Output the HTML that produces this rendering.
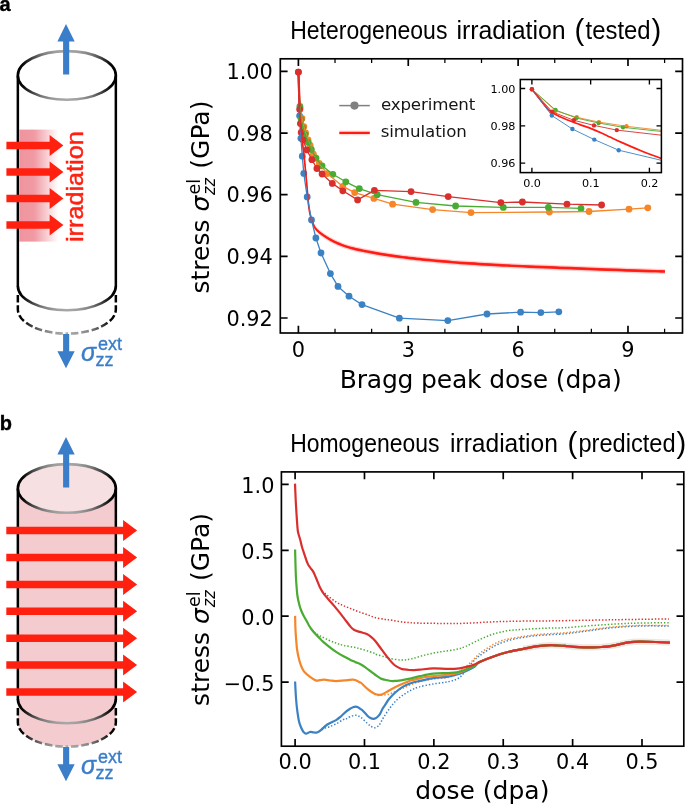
<!DOCTYPE html>
<html lang="en">
<head>
<meta charset="utf-8">
<title>Heterogeneous and homogeneous irradiation</title>
<style>
html,body{margin:0;padding:0;background:#fff;}
body{width:685px;height:806px;overflow:hidden;}
svg{display:block;}
text{font-family:"DejaVu Sans", "Liberation Sans", sans-serif;fill:#000;}
.ls{font-family:"Liberation Sans", "DejaVu Sans", sans-serif;}
</style>
</head>
<body>
<svg width="685" height="806" viewBox="0 0 685 806">
<defs>
<linearGradient id="eg" gradientUnits="userSpaceOnUse" x1="17.85" y1="0" x2="115.85" y2="0">
<stop offset="0" stop-color="#000"/><stop offset="0.05" stop-color="#050505"/><stop offset="0.15" stop-color="#444"/><stop offset="0.26" stop-color="#7e7e7e"/><stop offset="0.38" stop-color="#9e9e9e"/><stop offset="0.5" stop-color="#a8a8a8"/><stop offset="0.62" stop-color="#9e9e9e"/><stop offset="0.74" stop-color="#7e7e7e"/><stop offset="0.85" stop-color="#444"/><stop offset="0.95" stop-color="#050505"/><stop offset="1" stop-color="#000"/>
</linearGradient>
<linearGradient id="pg" x1="0" y1="0" x2="1" y2="0">
<stop offset="0" stop-color="#ef949e"/><stop offset="0.38" stop-color="#f09aa4"/><stop offset="1" stop-color="#ffffff"/>
</linearGradient>
</defs>
<rect x="0" y="0" width="685" height="806" fill="#ffffff"/>
<g id="panel-a-illustration">
<rect x="19.4" y="129.6" width="39" height="112" fill="url(#pg)"/>
<path d="M17.85 294.9 L17.85 309.3 A49 24.3 0 0 0 66.85 333.6" stroke="url(#eg)" stroke-width="2.5" stroke-dasharray="7.5 2.8" fill="none"/>
<path d="M115.85 294.9 L115.85 309.3 A49 24.3 0 0 1 66.85 333.6" stroke="url(#eg)" stroke-width="2.5" stroke-dasharray="7.5 2.8" fill="none"/>
<path d="M17.85 285.9 A49 24.3 0 0 0 115.85 285.9" stroke="url(#eg)" stroke-width="2.6" fill="none"/>
<ellipse cx="66.85" cy="75.45" rx="49" ry="24.3" stroke="url(#eg)" stroke-width="2.6" fill="none"/>
<path d="M17.85 75.45 V286.4 M115.85 75.45 V286.4" stroke="#000" stroke-width="2.5" fill="none"/>
<path d="M6.4 141.85 H49.6 V135.1 L63.4 145.6 L49.6 156.1 V149.35 H6.4 Z" fill="#ff2010"/>
<path d="M6.4 168.35 H49.6 V161.6 L63.4 172.1 L49.6 182.6 V175.85 H6.4 Z" fill="#ff2010"/>
<path d="M6.4 194.85 H49.6 V188.1 L63.4 198.6 L49.6 209.1 V202.35 H6.4 Z" fill="#ff2010"/>
<path d="M6.4 221.35 H49.6 V214.6 L63.4 225.1 L49.6 235.6 V228.85 H6.4 Z" fill="#ff2010"/>
<text class="ls" style="fill:#ff2010;stroke:#ff2010;stroke-width:0.45px" font-size="23.6" transform="translate(83 242.0) rotate(-90)" x="0" y="0" textLength="110.8" lengthAdjust="spacingAndGlyphs">irradiation</text>
<path d="M63.1 74.4 H69.2 V41.4 H74.7 L66.0 24 L57.4 41.4 H63.1 Z" fill="#3a7dc9"/>
<path d="M63.1 334 H69.2 V351.3 H74.7 L66.0 368.2 L57.4 351.3 H63.1 Z" fill="#3a7dc9"/>
<text class="ls" style="fill:#3a7dc9;stroke:#3a7dc9;stroke-width:0.35px" font-size="25" font-style="italic" x="80.9" y="361">σ</text>
<text class="ls" style="fill:#3a7dc9;stroke:#3a7dc9;stroke-width:0.35px" font-size="18" x="97.9" y="350">ext</text>
<text class="ls" style="fill:#3a7dc9;stroke:#3a7dc9;stroke-width:0.35px" font-size="18" x="95.6" y="366">zz</text>
</g>
<g id="panel-b-illustration">
<path d="M17.85 488.45 L17.85 722.3 A49 24.3 0 0 0 115.85 722.3 L115.85 488.45 A49 24.3 0 0 0 17.85 488.45 Z" fill="#f4cbce" stroke="none"/>
<ellipse cx="66.85" cy="488.45" rx="49" ry="24.3" fill="#f6e0e1" stroke="none"/>
<path d="M17.85 707.9 L17.85 722.3 A49 24.3 0 0 0 66.85 746.6" stroke="url(#eg)" stroke-width="2.5" stroke-dasharray="7.5 2.8" fill="none"/>
<path d="M115.85 707.9 L115.85 722.3 A49 24.3 0 0 1 66.85 746.6" stroke="url(#eg)" stroke-width="2.5" stroke-dasharray="7.5 2.8" fill="none"/>
<path d="M17.85 698.9 A49 24.3 0 0 0 115.85 698.9" stroke="url(#eg)" stroke-width="2.6" fill="none"/>
<ellipse cx="66.85" cy="488.45" rx="49" ry="24.3" stroke="url(#eg)" stroke-width="2.6" fill="none"/>
<path d="M17.85 488.45 V699.4 M115.85 488.45 V699.4" stroke="#000" stroke-width="2.5" fill="none"/>
<path d="M6.3 526.85 H123.1 V520.1 L137.1 530.6 L123.1 541.1 V534.35 H6.3 Z" fill="#ff2010"/>
<path d="M6.3 553.75 H123.1 V547 L137.1 557.5 L123.1 568 V561.25 H6.3 Z" fill="#ff2010"/>
<path d="M6.3 580.65 H123.1 V573.9 L137.1 584.4 L123.1 594.9 V588.15 H6.3 Z" fill="#ff2010"/>
<path d="M6.3 607.55 H123.1 V600.8 L137.1 611.3 L123.1 621.8 V615.05 H6.3 Z" fill="#ff2010"/>
<path d="M6.3 634.45 H123.1 V627.7 L137.1 638.2 L123.1 648.7 V641.95 H6.3 Z" fill="#ff2010"/>
<path d="M6.3 661.35 H123.1 V654.6 L137.1 665.1 L123.1 675.6 V668.85 H6.3 Z" fill="#ff2010"/>
<path d="M6.3 688.25 H123.1 V681.5 L137.1 692 L123.1 702.5 V695.75 H6.3 Z" fill="#ff2010"/>
<path d="M63.1 487.4 H69.2 V454.4 H74.7 L66.0 437 L57.4 454.4 H63.1 Z" fill="#3a7dc9"/>
<path d="M63.1 747 H69.2 V764.3 H74.7 L66.0 781.2 L57.4 764.3 H63.1 Z" fill="#3a7dc9"/>
<text class="ls" style="fill:#3a7dc9;stroke:#3a7dc9;stroke-width:0.35px" font-size="25" font-style="italic" x="80.9" y="774">σ</text>
<text class="ls" style="fill:#3a7dc9;stroke:#3a7dc9;stroke-width:0.35px" font-size="18" x="97.9" y="763">ext</text>
<text class="ls" style="fill:#3a7dc9;stroke:#3a7dc9;stroke-width:0.35px" font-size="18" x="95.6" y="779">zz</text>
</g>
<text class="ls" font-size="20" font-weight="bold" style="stroke:#000;stroke-width:0.35px" x="-0.6" y="11">a</text>
<text class="ls" font-size="20" font-weight="bold" style="stroke:#000;stroke-width:0.35px" x="-0.3" y="429.7">b</text>
<g id="chart-a">
<g fill="none" stroke-linejoin="round">
<g fill="#3b82c4"><circle cx="299.6" cy="115.8" r="3.4"/><circle cx="300.9" cy="138.3" r="3.4"/><circle cx="302.3" cy="156.2" r="3.4"/><circle cx="303.8" cy="173.4" r="3.4"/><circle cx="307.2" cy="196.9" r="3.4"/><circle cx="311.5" cy="219.9" r="3.4"/><circle cx="315.9" cy="238" r="3.4"/><circle cx="321" cy="253" r="3.4"/><circle cx="330.4" cy="273.6" r="3.4"/><circle cx="338" cy="286.4" r="3.4"/><circle cx="349" cy="296.2" r="3.4"/><circle cx="362" cy="304.6" r="3.4"/><circle cx="399.4" cy="318.2" r="3.4"/><circle cx="447.8" cy="320.6" r="3.4"/><circle cx="487" cy="314" r="3.4"/><circle cx="520.6" cy="312.2" r="3.4"/><circle cx="540.8" cy="312.6" r="3.4"/><circle cx="558.8" cy="311.8" r="3.4"/></g>
<g fill="#f5862a"><circle cx="300.1" cy="108.4" r="3.4"/><circle cx="302" cy="118.5" r="3.4"/><circle cx="303.8" cy="126.6" r="3.4"/><circle cx="305.6" cy="133" r="3.4"/><circle cx="308" cy="140" r="3.4"/><circle cx="310.2" cy="145.5" r="3.4"/><circle cx="313.4" cy="154.2" r="3.4"/><circle cx="319.2" cy="163.4" r="3.4"/><circle cx="327.2" cy="173.6" r="3.4"/><circle cx="342.8" cy="186.4" r="3.4"/><circle cx="354.7" cy="192.6" r="3.4"/><circle cx="373.9" cy="198.4" r="3.4"/><circle cx="392.6" cy="204.2" r="3.4"/><circle cx="432.6" cy="209.6" r="3.4"/><circle cx="471" cy="212.6" r="3.4"/><circle cx="549.4" cy="212" r="3.4"/><circle cx="589" cy="211.5" r="3.4"/><circle cx="629" cy="209.2" r="3.4"/><circle cx="647.8" cy="207.8" r="3.4"/></g>
<g fill="#4aab33"><circle cx="299.9" cy="106.5" r="3.4"/><circle cx="301.2" cy="119.3" r="3.4"/><circle cx="302.9" cy="127.9" r="3.4"/><circle cx="305.2" cy="134.6" r="3.4"/><circle cx="308.2" cy="142.3" r="3.4"/><circle cx="311.4" cy="149.6" r="3.4"/><circle cx="316" cy="158.2" r="3.4"/><circle cx="322.1" cy="165.8" r="3.4"/><circle cx="332.8" cy="174.3" r="3.4"/><circle cx="345.8" cy="181.8" r="3.4"/><circle cx="359.3" cy="188.6" r="3.4"/><circle cx="377.2" cy="194.7" r="3.4"/><circle cx="416" cy="202.4" r="3.4"/><circle cx="455.6" cy="206" r="3.4"/><circle cx="503.3" cy="207.4" r="3.4"/><circle cx="548.4" cy="207.4" r="3.4"/><circle cx="581" cy="208.4" r="3.4"/></g>
<g fill="#d9302e"><circle cx="298.4" cy="72.1" r="3.4"/><circle cx="299.7" cy="109.6" r="3.4"/><circle cx="300.4" cy="123.6" r="3.4"/><circle cx="301.2" cy="132.4" r="3.4"/><circle cx="303" cy="139.8" r="3.4"/><circle cx="306.8" cy="149.9" r="3.4"/><circle cx="311.9" cy="159.7" r="3.4"/><circle cx="316.9" cy="168.5" r="3.4"/><circle cx="322.1" cy="174" r="3.4"/><circle cx="332.3" cy="183.4" r="3.4"/><circle cx="342.8" cy="190.8" r="3.4"/><circle cx="357.6" cy="199.9" r="3.4"/><circle cx="374.4" cy="190.4" r="3.4"/><circle cx="411" cy="191.6" r="3.4"/><circle cx="448.2" cy="196.6" r="3.4"/><circle cx="500.8" cy="202.6" r="3.4"/><circle cx="522.4" cy="202" r="3.4"/><circle cx="567" cy="204.2" r="3.4"/><circle cx="601.6" cy="205" r="3.4"/></g>
<path d="M298.4 69.5 L298.45 71.46 L298.53 74.19 L298.61 77.42 L298.71 80.87 L298.81 84.29 L298.9 87.4 L298.99 90.23 L299.07 92.99 L299.16 95.71 L299.26 98.41 L299.37 101.14 L299.5 103.9 L299.65 106.73 L299.81 109.61 L299.99 112.51 L300.19 115.38 L300.39 118.19 L300.6 120.9 L300.83 123.53 L301.08 126.11 L301.34 128.63 L301.61 131.08 L301.86 133.44 L302.1 135.7 L302.32 137.85 L302.52 139.89 L302.72 141.85 L302.91 143.74 L303.1 145.58 L303.3 147.4 L303.5 149.14 L303.7 150.79 L303.91 152.38 L304.11 153.98 L304.31 155.64 L304.5 157.4 L304.69 159.29 L304.87 161.27 L305.06 163.31 L305.24 165.37 L305.42 167.41 L305.6 169.4 L305.78 171.27 L305.96 173.05 L306.13 174.81 L306.31 176.64 L306.5 178.61 L306.7 180.8 L306.92 183.34 L307.15 186.19 L307.39 189.18 L307.64 192.15 L307.87 194.94 L308.1 197.4 L308.3 199.48 L308.48 201.31 L308.66 202.96 L308.84 204.51 L309.05 206.03 L309.3 207.6 L309.6 209.24 L309.94 210.89 L310.3 212.52 L310.67 214.07 L311.05 215.52 L311.4 216.8 L311.73 217.89 L312.05 218.82 L312.37 219.64 L312.69 220.39 L313.03 221.13 L313.4 221.9 L313.78 222.7 L314.15 223.49 L314.54 224.26 L314.97 225.02 L315.45 225.77 L316 226.5 L316.63 227.22 L317.33 227.92 L318.09 228.61 L318.88 229.29 L319.69 229.95 L320.5 230.6 L321.33 231.23 L322.19 231.86 L323.06 232.46 L323.95 233.06 L324.83 233.63 L325.7 234.2 L326.53 234.74 L327.33 235.26 L328.13 235.76 L328.96 236.26 L329.84 236.77 L330.8 237.3 L331.85 237.86 L332.98 238.45 L334.16 239.05 L335.38 239.65 L336.63 240.24 L337.9 240.8 L339.18 241.34 L340.48 241.87 L341.81 242.39 L343.18 242.9 L344.6 243.41 L346.1 243.9 L347.7 244.4 L349.41 244.89 L351.17 245.38 L352.94 245.85 L354.66 246.29 L356.3 246.7 L357.76 247.05 L359.08 247.34 L360.35 247.6 L361.69 247.86 L363.2 248.15 L365 248.5 L367.08 248.91 L369.35 249.36 L371.79 249.83 L374.4 250.32 L377.14 250.82 L380 251.3 L383.04 251.78 L386.3 252.28 L389.69 252.78 L393.15 253.27 L396.61 253.74 L400 254.2 L403.33 254.63 L406.67 255.06 L410 255.46 L413.33 255.86 L416.67 256.23 L420 256.6 L423.33 256.95 L426.67 257.28 L430 257.59 L433.33 257.9 L436.67 258.2 L440 258.5 L443.22 258.79 L446.3 259.08 L449.38 259.36 L452.59 259.63 L456.09 259.91 L460 260.2 L464.46 260.5 L469.37 260.81 L474.56 261.12 L479.85 261.43 L485.06 261.72 L490 262 L494.49 262.25 L498.63 262.48 L502.69 262.7 L506.93 262.92 L511.61 263.15 L517 263.4 L522.96 263.67 L529.26 263.94 L536 264.23 L543.3 264.53 L551.26 264.85 L560 265.2 L570.11 265.59 L581.63 266.03 L593.81 266.49 L605.93 266.94 L617.23 267.35 L627 267.7 L635.45 267.99 L643.22 268.24 L650.19 268.46 L656.22 268.64 L661.2 268.78 L665 268.9 L665 274.1 L661.2 273.98 L656.22 273.84 L650.19 273.66 L643.22 273.44 L635.45 273.19 L627 272.9 L617.23 272.55 L605.93 272.14 L593.81 271.69 L581.63 271.23 L570.11 270.79 L560 270.4 L551.26 270.05 L543.3 269.73 L536 269.43 L529.26 269.14 L522.96 268.87 L517 268.6 L511.61 268.35 L506.93 268.12 L502.69 267.9 L498.63 267.68 L494.49 267.45 L490 267.2 L485.06 266.92 L479.85 266.63 L474.56 266.32 L469.37 266.01 L464.46 265.7 L460 265.4 L456.09 265.11 L452.59 264.83 L449.38 264.56 L446.3 264.28 L443.22 263.99 L440 263.7 L436.67 263.4 L433.33 263.1 L430 262.79 L426.67 262.48 L423.33 262.15 L420 261.8 L416.67 261.43 L413.33 261.06 L410 260.66 L406.67 260.26 L403.33 259.83 L400 259.4 L396.61 258.94 L393.15 258.47 L389.69 257.98 L386.3 257.48 L383.04 256.98 L380 256.5 L377.14 256.02 L374.4 255.52 L371.79 255.03 L369.35 254.56 L367.08 254.11 L365 253.7 L363.2 253.35 L361.69 253.06 L360.35 252.8 L359.08 252.54 L357.76 252.25 L356.3 251.9 L354.66 251.49 L352.94 251.05 L351.17 250.58 L349.41 250.09 L347.7 249.6 L346.1 249.1 L344.6 248.61 L343.18 248.1 L341.81 247.59 L340.48 247.07 L339.18 246.54 L337.9 246 L336.63 245.44 L335.38 244.85 L334.16 244.25 L332.98 243.65 L331.85 243.06 L330.8 242.5 L329.84 241.97 L328.96 241.46 L328.13 240.96 L327.33 240.46 L326.53 239.94 L325.7 239.4 L324.83 238.83 L323.95 238.26 L323.06 237.66 L322.19 237.06 L321.33 236.43 L320.5 235.8 L319.69 235.15 L318.88 234.49 L318.09 233.81 L317.33 233.12 L316.63 232.42 L316 231.7 L315.45 230.97 L314.97 230.22 L314.54 229.46 L314.15 228.69 L313.78 227.9 L313.4 227.1 L313.03 226.33 L312.69 225.59 L312.37 224.84 L312.05 224.02 L311.73 223.09 L311.4 222 L311.05 220.72 L310.67 219.27 L310.3 217.72 L309.94 216.09 L309.6 214.44 L309.3 212.8 L309.05 211.23 L308.84 209.71 L308.66 208.16 L308.48 206.51 L308.3 204.68 L308.1 202.6 L307.87 200.14 L307.64 197.35 L307.39 194.38 L307.15 191.39 L306.92 188.54 L306.7 186 L306.5 183.81 L306.31 181.84 L306.13 180.01 L305.96 178.25 L305.78 176.47 L305.6 174.6 L305.42 172.61 L305.24 170.57 L305.06 168.51 L304.87 166.47 L304.69 164.49 L304.5 162.6 L304.31 160.84 L304.11 159.18 L303.91 157.58 L303.7 155.99 L303.5 154.34 L303.3 152.6 L303.1 150.78 L302.91 148.94 L302.72 147.05 L302.52 145.09 L302.32 143.05 L302.1 140.9 L301.86 138.64 L301.61 136.28 L301.34 133.83 L301.08 131.31 L300.83 128.73 L300.6 126.1 L300.39 123.39 L300.19 120.58 L299.99 117.71 L299.81 114.81 L299.65 111.93 L299.5 109.1 L299.37 106.34 L299.26 103.61 L299.16 100.91 L299.07 98.19 L298.99 95.43 L298.9 92.6 L298.81 89.49 L298.71 86.07 L298.61 82.62 L298.53 79.39 L298.45 76.66 L298.4 74.7 Z" fill="#ff1a12" fill-opacity="0.2" stroke="none"/>
<path d="M298.4 70.75 L298.45 72.71 L298.53 75.44 L298.61 78.67 L298.71 82.12 L298.81 85.54 L298.9 88.65 L298.99 91.48 L299.07 94.24 L299.16 96.96 L299.26 99.66 L299.37 102.39 L299.5 105.15 L299.65 107.98 L299.81 110.86 L299.99 113.76 L300.19 116.63 L300.39 119.44 L300.6 122.15 L300.83 124.78 L301.08 127.36 L301.34 129.88 L301.61 132.33 L301.86 134.69 L302.1 136.95 L302.32 139.1 L302.52 141.14 L302.72 143.1 L302.91 144.99 L303.1 146.83 L303.3 148.65 L303.5 150.39 L303.7 152.04 L303.91 153.63 L304.11 155.23 L304.31 156.89 L304.5 158.65 L304.69 160.54 L304.87 162.52 L305.06 164.56 L305.24 166.62 L305.42 168.66 L305.6 170.65 L305.78 172.52 L305.96 174.3 L306.13 176.06 L306.31 177.89 L306.5 179.86 L306.7 182.05 L306.92 184.59 L307.15 187.44 L307.39 190.43 L307.64 193.4 L307.87 196.19 L308.1 198.65 L308.3 200.73 L308.48 202.56 L308.66 204.21 L308.84 205.76 L309.05 207.28 L309.3 208.85 L309.6 210.49 L309.94 212.14 L310.3 213.77 L310.67 215.32 L311.05 216.77 L311.4 218.05 L311.73 219.14 L312.05 220.07 L312.37 220.89 L312.69 221.64 L313.03 222.38 L313.4 223.15 L313.78 223.95 L314.15 224.74 L314.54 225.51 L314.97 226.27 L315.45 227.02 L316 227.75 L316.63 228.47 L317.33 229.17 L318.09 229.86 L318.88 230.54 L319.69 231.2 L320.5 231.85 L321.33 232.48 L322.19 233.11 L323.06 233.71 L323.95 234.31 L324.83 234.88 L325.7 235.45 L326.53 235.99 L327.33 236.51 L328.13 237.01 L328.96 237.51 L329.84 238.02 L330.8 238.55 L331.85 239.11 L332.98 239.7 L334.16 240.3 L335.38 240.9 L336.63 241.49 L337.9 242.05 L339.18 242.59 L340.48 243.12 L341.81 243.64 L343.18 244.15 L344.6 244.66 L346.1 245.15 L347.7 245.65 L349.41 246.14 L351.17 246.63 L352.94 247.1 L354.66 247.54 L356.3 247.95 L357.76 248.3 L359.08 248.59 L360.35 248.85 L361.69 249.11 L363.2 249.4 L365 249.75 L367.08 250.16 L369.35 250.61 L371.79 251.08 L374.4 251.57 L377.14 252.07 L380 252.55 L383.04 253.03 L386.3 253.53 L389.69 254.03 L393.15 254.52 L396.61 254.99 L400 255.45 L403.33 255.88 L406.67 256.31 L410 256.71 L413.33 257.11 L416.67 257.48 L420 257.85 L423.33 258.2 L426.67 258.53 L430 258.84 L433.33 259.15 L436.67 259.45 L440 259.75 L443.22 260.04 L446.3 260.33 L449.38 260.61 L452.59 260.88 L456.09 261.16 L460 261.45 L464.46 261.75 L469.37 262.06 L474.56 262.37 L479.85 262.68 L485.06 262.97 L490 263.25 L494.49 263.5 L498.63 263.73 L502.69 263.95 L506.93 264.17 L511.61 264.4 L517 264.65 L522.96 264.92 L529.26 265.19 L536 265.48 L543.3 265.78 L551.26 266.1 L560 266.45 L570.11 266.84 L581.63 267.28 L593.81 267.74 L605.93 268.19 L617.23 268.6 L627 268.95 L635.45 269.24 L643.22 269.49 L650.19 269.71 L656.22 269.89 L661.2 270.03 L665 270.15 L665 272.85 L661.2 272.73 L656.22 272.59 L650.19 272.41 L643.22 272.19 L635.45 271.94 L627 271.65 L617.23 271.3 L605.93 270.89 L593.81 270.44 L581.63 269.98 L570.11 269.54 L560 269.15 L551.26 268.8 L543.3 268.48 L536 268.18 L529.26 267.89 L522.96 267.62 L517 267.35 L511.61 267.1 L506.93 266.87 L502.69 266.65 L498.63 266.43 L494.49 266.2 L490 265.95 L485.06 265.67 L479.85 265.38 L474.56 265.07 L469.37 264.76 L464.46 264.45 L460 264.15 L456.09 263.86 L452.59 263.58 L449.38 263.31 L446.3 263.03 L443.22 262.74 L440 262.45 L436.67 262.15 L433.33 261.85 L430 261.54 L426.67 261.23 L423.33 260.9 L420 260.55 L416.67 260.18 L413.33 259.81 L410 259.41 L406.67 259.01 L403.33 258.58 L400 258.15 L396.61 257.69 L393.15 257.22 L389.69 256.73 L386.3 256.23 L383.04 255.73 L380 255.25 L377.14 254.77 L374.4 254.27 L371.79 253.78 L369.35 253.31 L367.08 252.86 L365 252.45 L363.2 252.1 L361.69 251.81 L360.35 251.55 L359.08 251.29 L357.76 251 L356.3 250.65 L354.66 250.24 L352.94 249.8 L351.17 249.33 L349.41 248.84 L347.7 248.35 L346.1 247.85 L344.6 247.36 L343.18 246.85 L341.81 246.34 L340.48 245.82 L339.18 245.29 L337.9 244.75 L336.63 244.19 L335.38 243.6 L334.16 243 L332.98 242.4 L331.85 241.81 L330.8 241.25 L329.84 240.72 L328.96 240.21 L328.13 239.71 L327.33 239.21 L326.53 238.69 L325.7 238.15 L324.83 237.58 L323.95 237.01 L323.06 236.41 L322.19 235.81 L321.33 235.18 L320.5 234.55 L319.69 233.9 L318.88 233.24 L318.09 232.56 L317.33 231.87 L316.63 231.17 L316 230.45 L315.45 229.72 L314.97 228.97 L314.54 228.21 L314.15 227.44 L313.78 226.65 L313.4 225.85 L313.03 225.08 L312.69 224.34 L312.37 223.59 L312.05 222.77 L311.73 221.84 L311.4 220.75 L311.05 219.47 L310.67 218.02 L310.3 216.47 L309.94 214.84 L309.6 213.19 L309.3 211.55 L309.05 209.98 L308.84 208.46 L308.66 206.91 L308.48 205.26 L308.3 203.43 L308.1 201.35 L307.87 198.89 L307.64 196.1 L307.39 193.12 L307.15 190.14 L306.92 187.29 L306.7 184.75 L306.5 182.56 L306.31 180.59 L306.13 178.76 L305.96 177 L305.78 175.22 L305.6 173.35 L305.42 171.36 L305.24 169.32 L305.06 167.26 L304.87 165.22 L304.69 163.24 L304.5 161.35 L304.31 159.59 L304.11 157.93 L303.91 156.33 L303.7 154.74 L303.5 153.09 L303.3 151.35 L303.1 149.53 L302.91 147.69 L302.72 145.8 L302.52 143.84 L302.32 141.8 L302.1 139.65 L301.86 137.39 L301.61 135.03 L301.34 132.58 L301.08 130.06 L300.83 127.48 L300.6 124.85 L300.39 122.14 L300.19 119.33 L299.99 116.46 L299.81 113.56 L299.65 110.68 L299.5 107.85 L299.37 105.09 L299.26 102.36 L299.16 99.66 L299.07 96.94 L298.99 94.18 L298.9 91.35 L298.81 88.24 L298.71 84.82 L298.61 81.37 L298.53 78.14 L298.45 75.41 L298.4 73.45 Z" fill="#ff1a12" fill-opacity="0.85" stroke="none"/>
<path d="M298.4 72.1 L298.45 74.06 L298.53 76.79 L298.61 80.02 L298.71 83.47 L298.81 86.89 L298.9 90 L298.99 92.83 L299.07 95.59 L299.16 98.31 L299.26 101.01 L299.37 103.74 L299.5 106.5 L299.65 109.33 L299.81 112.21 L299.99 115.11 L300.19 117.98 L300.39 120.79 L300.6 123.5 L300.83 126.13 L301.08 128.71 L301.34 131.23 L301.61 133.68 L301.86 136.04 L302.1 138.3 L302.32 140.45 L302.52 142.49 L302.72 144.45 L302.91 146.34 L303.1 148.18 L303.3 150 L303.5 151.74 L303.7 153.39 L303.91 154.98 L304.11 156.58 L304.31 158.24 L304.5 160 L304.69 161.89 L304.87 163.87 L305.06 165.91 L305.24 167.97 L305.42 170.01 L305.6 172 L305.78 173.87 L305.96 175.65 L306.13 177.41 L306.31 179.24 L306.5 181.21 L306.7 183.4 L306.92 185.94 L307.15 188.79 L307.39 191.78 L307.64 194.75 L307.87 197.54 L308.1 200 L308.3 202.08 L308.48 203.91 L308.66 205.56 L308.84 207.11 L309.05 208.63 L309.3 210.2 L309.6 211.84 L309.94 213.49 L310.3 215.12 L310.67 216.67 L311.05 218.12 L311.4 219.4 L311.73 220.49 L312.05 221.42 L312.37 222.24 L312.69 222.99 L313.03 223.73 L313.4 224.5 L313.78 225.3 L314.15 226.09 L314.54 226.86 L314.97 227.62 L315.45 228.37 L316 229.1 L316.63 229.82 L317.33 230.52 L318.09 231.21 L318.88 231.89 L319.69 232.55 L320.5 233.2 L321.33 233.83 L322.19 234.46 L323.06 235.06 L323.95 235.66 L324.83 236.23 L325.7 236.8 L326.53 237.34 L327.33 237.86 L328.13 238.36 L328.96 238.86 L329.84 239.37 L330.8 239.9 L331.85 240.46 L332.98 241.05 L334.16 241.65 L335.38 242.25 L336.63 242.84 L337.9 243.4 L339.18 243.94 L340.48 244.47 L341.81 244.99 L343.18 245.5 L344.6 246.01 L346.1 246.5 L347.7 247 L349.41 247.49 L351.17 247.98 L352.94 248.45 L354.66 248.89 L356.3 249.3 L357.76 249.65 L359.08 249.94 L360.35 250.2 L361.69 250.46 L363.2 250.75 L365 251.1 L367.08 251.51 L369.35 251.96 L371.79 252.43 L374.4 252.92 L377.14 253.42 L380 253.9 L383.04 254.38 L386.3 254.88 L389.69 255.38 L393.15 255.87 L396.61 256.34 L400 256.8 L403.33 257.23 L406.67 257.66 L410 258.06 L413.33 258.46 L416.67 258.83 L420 259.2 L423.33 259.55 L426.67 259.88 L430 260.19 L433.33 260.5 L436.67 260.8 L440 261.1 L443.22 261.39 L446.3 261.68 L449.38 261.96 L452.59 262.23 L456.09 262.51 L460 262.8 L464.46 263.1 L469.37 263.41 L474.56 263.72 L479.85 264.03 L485.06 264.32 L490 264.6 L494.49 264.85 L498.63 265.08 L502.69 265.3 L506.93 265.52 L511.61 265.75 L517 266 L522.96 266.27 L529.26 266.54 L536 266.83 L543.3 267.13 L551.26 267.45 L560 267.8 L570.11 268.19 L581.63 268.63 L593.81 269.09 L605.93 269.54 L617.23 269.95 L627 270.3 L635.45 270.59 L643.22 270.84 L650.19 271.06 L656.22 271.24 L661.2 271.38 L665 271.5" stroke="#ff1a12" stroke-width="1.7" stroke-linejoin="round" fill="none"/>
<path d="M298.4 72.1 L299.6 115.8 L300.9 138.3 L302.3 156.2 L303.8 173.4 L307.2 196.9 L311.5 219.9 L315.9 238 L321 253 L330.4 273.6 L338 286.4 L349 296.2 L362 304.6 L399.4 318.2 L447.8 320.6 L487 314 L520.6 312.2 L540.8 312.6 L558.8 311.8" stroke="#3b82c4" stroke-width="1.3" fill="none"/>
<path d="M298.4 72.1 L300.1 108.4 L302 118.5 L303.8 126.6 L305.6 133 L308 140 L310.2 145.5 L313.4 154.2 L319.2 163.4 L327.2 173.6 L342.8 186.4 L354.7 192.6 L373.9 198.4 L392.6 204.2 L432.6 209.6 L471 212.6 L549.4 212 L589 211.5 L629 209.2 L647.8 207.8" stroke="#f5862a" stroke-width="1.3" fill="none"/>
<path d="M298.4 72.1 L299.9 106.5 L301.2 119.3 L302.9 127.9 L305.2 134.6 L308.2 142.3 L311.4 149.6 L316 158.2 L322.1 165.8 L332.8 174.3 L345.8 181.8 L359.3 188.6 L377.2 194.7 L416 202.4 L455.6 206 L503.3 207.4 L548.4 207.4 L581 208.4" stroke="#4aab33" stroke-width="1.3" fill="none"/>
<path d="M298.4 72.1 L299.7 109.6 L300.4 123.6 L301.2 132.4 L303 139.8 L306.8 149.9 L311.9 159.7 L316.9 168.5 L322.1 174 L332.3 183.4 L342.8 190.8 L357.6 199.9 L374.4 190.4 L411 191.6 L448.2 196.6 L500.8 202.6 L522.4 202 L567 204.2 L601.6 205" stroke="#d9302e" stroke-width="1.3" fill="none"/>
<path d="M298.4 72.1 L299.6 106" stroke="#de2c28" stroke-width="2.3" fill="none"/>
<g fill="#d9302e"><circle cx="298.4" cy="72.1" r="3.4"/></g>
</g>
<path d="M298.4 333 v-7.3 M298.4 58.8 v7.3 M408.26 333 v-7.3 M408.26 58.8 v7.3 M518.12 333 v-7.3 M518.12 58.8 v7.3 M627.98 333 v-7.3 M627.98 58.8 v7.3 M280.3 318 h7.3 M682.5 318 h-7.3 M280.3 256.35 h7.3 M682.5 256.35 h-7.3 M280.3 194.7 h7.3 M682.5 194.7 h-7.3 M280.3 133.05 h7.3 M682.5 133.05 h-7.3 M280.3 71.4 h7.3 M682.5 71.4 h-7.3" stroke="#000" stroke-width="1.67" fill="none"/>
<path d="M335.02 333 v-4.2 M335.02 58.8 v4.2 M371.64 333 v-4.2 M371.64 58.8 v4.2 M444.88 333 v-4.2 M444.88 58.8 v4.2 M481.5 333 v-4.2 M481.5 58.8 v4.2 M554.74 333 v-4.2 M554.74 58.8 v4.2 M591.36 333 v-4.2 M591.36 58.8 v4.2 M664.6 333 v-4.2 M664.6 58.8 v4.2" stroke="#000" stroke-width="1.25" fill="none"/>
<rect x="280.3" y="58.8" width="402.2" height="274.2" fill="none" stroke="#000" stroke-width="1.67"/>
<text font-size="20.83" text-anchor="middle" x="298.4" y="357.2">0</text>
<text font-size="20.83" text-anchor="middle" x="408.26" y="357.2">3</text>
<text font-size="20.83" text-anchor="middle" x="518.12" y="357.2">6</text>
<text font-size="20.83" text-anchor="middle" x="627.98" y="357.2">9</text>
<text font-size="20.83" text-anchor="end" x="272.8" y="325.7">0.92</text>
<text font-size="20.83" text-anchor="end" x="272.8" y="264.05">0.94</text>
<text font-size="20.83" text-anchor="end" x="272.8" y="202.4">0.96</text>
<text font-size="20.83" text-anchor="end" x="272.8" y="140.75">0.98</text>
<text font-size="20.83" text-anchor="end" x="272.8" y="79.1">1.00</text>
<text font-size="25" x="339.7" y="387.5" textLength="282">Bragg peak dose (dpa)</text>
<path d="M339.3 105.6 H369.8" stroke="#808080" stroke-width="1.5" fill="none"/>
<circle cx="354.5" cy="105.6" r="4.1" fill="#808080"/>
<path d="M339.3 132.9 H369.8" stroke="#ff1a12" stroke-opacity="0.12" stroke-width="5" fill="none"/>
<path d="M339.3 132.9 H369.8" stroke="#ff1a12" stroke-width="2.3" fill="none"/>
<text font-size="16.67" style="fill:#151515" x="380.9" y="110" textLength="94.4">experiment</text>
<text font-size="16.67" style="fill:#151515" x="380.7" y="137.2" textLength="86.1">simulation</text>
</g>
<g id="inset">
<rect x="520.3" y="79.5" width="141.1" height="93.1" fill="#fff" stroke="none"/>
<clipPath id="ic"><rect x="520.3" y="79.5" width="141.1" height="93.1"/></clipPath>
<g clip-path="url(#ic)">
<g fill="#3b82c4"><circle cx="551.8" cy="115.5" r="2.2"/><circle cx="572.4" cy="129" r="2.2"/><circle cx="594.3" cy="139.6" r="2.2"/><circle cx="618.7" cy="150.2" r="2.2"/></g>
<g fill="#f5862a"><circle cx="555.5" cy="110.8" r="2.2"/><circle cx="576.8" cy="117.3" r="2.2"/><circle cx="598.9" cy="122.1" r="2.2"/><circle cx="626.5" cy="126.3" r="2.2"/></g>
<g fill="#4aab33"><circle cx="555.5" cy="110" r="2.2"/><circle cx="576.2" cy="118" r="2.2"/><circle cx="598.6" cy="123" r="2.2"/><circle cx="623" cy="127.3" r="2.2"/></g>
<g fill="#d9302e"><circle cx="531.9" cy="89.2" r="2.2"/><circle cx="552.1" cy="111.8" r="2.2"/><circle cx="573.8" cy="120.3" r="2.2"/><circle cx="594" cy="125.4" r="2.2"/><circle cx="616.8" cy="130.1" r="2.2"/></g>
<path d="M531.9 89.2 C533.25 90.92 537.22 96.07 540 99.5 C542.78 102.93 545.77 107.17 548.6 109.8 C551.43 112.43 553.85 113.6 557 115.3 C560.15 117 563.67 118.45 567.5 120 C571.33 121.55 575.95 123.12 580 124.6 C584.05 126.08 588.13 127.47 591.8 128.9 C595.47 130.33 598.97 131.85 602 133.2 C605.03 134.55 606.75 135.47 610 137 C613.25 138.53 616.43 140.15 621.5 142.4 C626.57 144.65 633.75 147.82 640.4 150.5 C647.05 153.18 657.9 157.17 661.4 158.5" stroke="#ff1a12" stroke-width="1.7" fill="none"/>
<path d="M531.9 89.2 L551.8 115.5 L572.4 129 L594.3 139.6 L618.7 150.2 L661.4 160.3" stroke="#3b82c4" stroke-width="0.9" fill="none"/>
<path d="M531.9 89.2 L555.5 110.8 L576.8 117.3 L598.9 122.1 L626.5 126.3 L661.4 130.3" stroke="#f5862a" stroke-width="0.9" fill="none"/>
<path d="M531.9 89.2 L555.5 110 L576.2 118 L598.6 123 L623 127.3 L661.4 131.5" stroke="#4aab33" stroke-width="0.9" fill="none"/>
<path d="M531.9 89.2 L552.1 111.8 L573.8 120.3 L594 125.4 L616.8 130.1 L661.4 135.2" stroke="#d9302e" stroke-width="0.9" fill="none"/>
<g fill="#d9302e"><circle cx="531.9" cy="89.2" r="2.2"/></g>
</g>
<path d="M531.9 172.6 v-4.9 M531.9 79.5 v4.9 M590.65 172.6 v-4.9 M590.65 79.5 v4.9 M649.4 172.6 v-4.9 M649.4 79.5 v4.9 M520.3 163.1 h4.9 M661.4 163.1 h-4.9 M520.3 125.8 h4.9 M661.4 125.8 h-4.9 M520.3 88.5 h4.9 M661.4 88.5 h-4.9" stroke="#000" stroke-width="1.35" fill="none"/>
<rect x="520.3" y="79.5" width="141.1" height="93.1" fill="none" stroke="#000" stroke-width="1.55"/>
<text font-size="11.2" text-anchor="middle" x="532.1" y="186.7">0.0</text>
<text font-size="11.2" text-anchor="middle" x="590.85" y="186.7">0.1</text>
<text font-size="11.2" text-anchor="middle" x="649.6" y="186.7">0.2</text>
<text font-size="11.2" text-anchor="end" x="515.4" y="167.4">0.96</text>
<text font-size="11.2" text-anchor="end" x="515.4" y="130.1">0.98</text>
<text font-size="11.2" text-anchor="end" x="515.4" y="92.8">1.00</text>
</g>
<g id="chart-b">
<g fill="none" stroke-linejoin="round" stroke-linecap="butt">
<path d="M322 729.5 C322.4 729.28 323.27 728.62 324.4 728.2 C325.53 727.78 326.85 727.73 328.8 727 C330.75 726.27 333.67 725.05 336.1 723.8 C338.53 722.55 341.7 720.35 343.4 719.5 C345.1 718.65 345.2 719.17 346.3 718.7 C347.4 718.23 348.38 717.27 350 716.7 C351.62 716.13 354.13 715.13 356 715.3 C357.87 715.47 359.3 716.35 361.2 717.7 C363.1 719.05 365.77 721.97 367.4 723.4 C369.03 724.83 369.8 725.57 371 726.3 C372.2 727.03 373.52 727.77 374.6 727.8 C375.68 727.83 376.63 727.1 377.5 726.5 C378.37 725.9 378.77 725.75 379.8 724.2 C380.83 722.65 382.02 719.9 383.7 717.2 C385.38 714.5 387.77 710.83 389.9 708 C392.03 705.17 394.12 702.5 396.5 700.2 C398.88 697.9 401.73 695.88 404.2 694.2 C406.67 692.52 408.87 691.3 411.3 690.1 C413.73 688.9 415.12 688.03 418.8 687 C422.48 685.97 428.53 684.77 433.4 683.9 C438.27 683.03 443.62 682.88 448 681.8 C452.38 680.72 456.3 679.9 459.7 677.4 C463.1 674.9 465.85 669.73 468.4 666.8 C470.95 663.87 473.13 661.65 475 659.8 C476.87 657.95 476.4 657.97 479.6 655.7 C482.8 653.43 489.33 648.75 494.2 646.2 C499.07 643.65 503.93 641.87 508.8 640.4 C513.67 638.93 518.53 638.22 523.4 637.4 C528.27 636.58 531.07 636.1 538 635.5 C544.93 634.9 557.42 634.47 565 633.8 C572.58 633.13 575.68 632.5 583.5 631.5 C591.32 630.5 602.42 628.72 611.9 627.8 C621.38 626.88 630.9 626.3 640.4 626 C649.9 625.7 664.15 626 668.9 626" stroke="#3b82c4" stroke-width="1.5" stroke-dasharray="1.4 1.9" fill="none"/>
<path d="M374.5 694.2 C375.35 694.4 377.22 695.4 379.6 695.4 C381.98 695.4 386.07 694.9 388.8 694.2 C391.53 693.5 393.62 692.22 396 691.2 C398.38 690.18 400.55 689.22 403.1 688.1 C405.65 686.98 408.48 685.6 411.3 684.5 C414.12 683.4 416.32 682.42 420 681.5 C423.68 680.58 428.73 679.67 433.4 679 C438.07 678.33 444.23 678.25 448 677.5 C451.77 676.75 454 675.58 456 674.5 C458 673.42 458.5 672.18 460 671 C461.5 669.82 462.95 669.1 465 667.4 C467.05 665.7 469.87 663.12 472.3 660.8 C474.73 658.48 477.17 655.57 479.6 653.5 C482.03 651.43 484.47 649.98 486.9 648.4 C489.33 646.82 491.77 645.28 494.2 644 C496.63 642.72 499.07 641.55 501.5 640.7 C503.93 639.85 505.15 639.62 508.8 638.9 C512.45 638.18 518.53 637.13 523.4 636.4 C528.27 635.67 533.13 634.98 538 634.5 C542.87 634.02 548.1 633.78 552.6 633.5 C557.1 633.22 559.85 633.27 565 632.8 C570.15 632.33 575.68 631.65 583.5 630.7 C591.32 629.75 602.42 627.97 611.9 627.1 C621.38 626.23 630.9 625.77 640.4 625.5 C649.9 625.23 664.15 625.5 668.9 625.5" stroke="#f5862a" stroke-width="1.5" stroke-dasharray="1.4 1.9" fill="none"/>
<path d="M312 629.8 C312.37 630.2 312.87 631.2 314.2 632.2 C315.53 633.2 317.57 634.47 320 635.8 C322.43 637.13 326.13 639 328.8 640.2 C331.47 641.4 333.57 642.15 336 643 C338.43 643.85 339.73 644.43 343.4 645.3 C347.07 646.17 353.13 646.98 358 648.2 C362.87 649.42 369.77 651.63 372.6 652.6 C375.43 653.57 372.93 653.27 375 654 C377.07 654.73 382.57 656.27 385 657 C387.43 657.73 386.88 657.88 389.6 658.4 C392.32 658.92 397.65 660.03 401.3 660.1 C404.95 660.17 407.37 659.7 411.5 658.8 C415.63 657.9 421.23 655.87 426.1 654.7 C430.97 653.53 435.83 652.65 440.7 651.8 C445.57 650.95 451.17 650.48 455.3 649.6 C459.43 648.72 461.45 648.17 465.5 646.5 C469.55 644.83 474.82 641.72 479.6 639.6 C484.38 637.48 489.33 635.3 494.2 633.8 C499.07 632.3 503.93 631.33 508.8 630.6 C513.67 629.87 517.32 629.8 523.4 629.4 C529.48 629 538.37 628.48 545.3 628.2 C552.23 627.92 557.05 628.15 565 627.7 C572.95 627.25 582.02 626.23 593 625.5 C603.98 624.77 618.25 623.77 630.9 623.3 C643.55 622.83 662.57 622.8 668.9 622.7" stroke="#4aab33" stroke-width="1.5" stroke-dasharray="1.4 1.9" fill="none"/>
<path d="M322.2 591 C323.17 591.83 325.68 594.17 328 596 C330.32 597.83 333.6 600.42 336.1 602 C338.6 603.58 340.57 604.4 343 605.5 C345.43 606.6 348.2 607.6 350.7 608.6 C353.2 609.6 355.32 610.52 358 611.5 C360.68 612.48 363.97 613.5 366.8 614.5 C369.63 615.5 371.97 616.68 375 617.5 C378.03 618.32 382.57 619 385 619.4 C387.43 619.8 386.4 619.43 389.6 619.9 C392.8 620.37 399.33 621.67 404.2 622.2 C409.07 622.73 412.72 622.9 418.8 623.1 C424.88 623.3 433 623.37 440.7 623.4 C448.4 623.43 456.08 623.57 465 623.3 C473.92 623.03 484.47 622.17 494.2 621.8 C503.93 621.43 513.27 621.27 523.4 621.1 C533.53 620.93 540.25 621.02 555 620.8 C569.75 620.58 592.92 620.12 611.9 619.8 C630.88 619.48 659.4 619.05 668.9 618.9" stroke="#d9302e" stroke-width="1.5" stroke-dasharray="1.4 1.9" fill="none"/>
<path d="M523.4 648.8 C525.83 648.37 533.62 646.8 538 646.2 C542.38 645.6 546.87 645.33 549.7 645.2 C552.53 645.07 552.45 645.28 555 645.4 C557.55 645.52 561.83 645.67 565 645.9 C568.17 646.13 569.33 646.55 574 646.8 C578.67 647.05 588.17 647.38 593 647.4 C597.83 647.42 599.85 647.17 603 646.9 C606.15 646.63 609.07 646.25 611.9 645.8 C614.73 645.35 617.47 644.72 620 644.2 C622.53 643.68 624.77 643.08 627.1 642.7 C629.43 642.32 631.78 642.07 634 641.9 C636.22 641.73 636.8 641.68 640.4 641.7 C644 641.72 650.7 641.85 655.6 642 C660.5 642.15 667.43 642.5 669.8 642.6" stroke="#a89078" stroke-opacity="0.22" stroke-width="6.2" fill="none"/>
<path d="M295.1 681.5 C295.22 683.75 295.55 691.12 295.8 695 C296.05 698.88 296.3 701.8 296.6 704.8 C296.9 707.8 297.22 710.32 297.6 713 C297.98 715.68 298.42 718.73 298.9 720.9 C299.38 723.07 299.9 724.42 300.5 726 C301.1 727.58 301.87 729.28 302.5 730.4 C303.13 731.52 303.68 732.15 304.3 732.7 C304.92 733.25 305.53 733.68 306.2 733.7 C306.87 733.72 307.58 733.12 308.3 732.8 C309.02 732.48 309.63 731.87 310.5 731.8 C311.37 731.73 312.52 732.27 313.5 732.4 C314.48 732.53 315.48 732.75 316.4 732.6 C317.32 732.45 318.15 732 319 731.5 C319.85 731 320.12 730.77 321.5 729.6 C322.88 728.43 324.87 726.08 327.3 724.5 C329.73 722.92 333.82 721.47 336.1 720.1 C338.38 718.73 339.3 717.75 341 716.3 C342.7 714.85 344.8 712.65 346.3 711.4 C347.8 710.15 348.88 709.5 350 708.8 C351.12 708.1 352.05 707.55 353 707.2 C353.95 706.85 354.87 706.7 355.7 706.7 C356.53 706.7 357.25 706.85 358 707.2 C358.75 707.55 359.47 708.3 360.2 708.8 C360.93 709.3 361.2 709.05 362.4 710.2 C363.6 711.35 366.05 714.4 367.4 715.7 C368.75 717 369.48 717.47 370.5 718 C371.52 718.53 372.65 718.85 373.5 718.9 C374.35 718.95 374.92 718.67 375.6 718.3 C376.28 717.93 376.88 717.38 377.6 716.7 C378.32 716.02 379.05 715.57 379.9 714.2 C380.75 712.83 381.85 710 382.7 708.5 C383.55 707 383.98 706.73 385 705.2 C386.02 703.67 387.13 701.38 388.8 699.3 C390.47 697.22 392.62 694.82 395 692.7 C397.38 690.58 400.38 688.22 403.1 686.6 C405.82 684.98 408.48 683.95 411.3 683 C414.12 682.05 416.32 681.72 420 680.9 C423.68 680.08 428.73 678.82 433.4 678.1 C438.07 677.38 443.62 677.33 448 676.6 C452.38 675.87 456.3 674.78 459.7 673.7 C463.1 672.62 465.85 671.32 468.4 670.1 C470.95 668.88 473.13 667.75 475 666.4 C476.87 665.05 476.4 663.7 479.6 662 C482.8 660.3 489.33 657.9 494.2 656.2 C499.07 654.5 503.93 653.03 508.8 651.8 C513.67 650.57 518.53 649.73 523.4 648.8 C528.27 647.87 533.62 646.8 538 646.2 C542.38 645.6 546.87 645.33 549.7 645.2 C552.53 645.07 552.45 645.28 555 645.4 C557.55 645.52 561.83 645.67 565 645.9 C568.17 646.13 569.33 646.55 574 646.8 C578.67 647.05 588.17 647.38 593 647.4 C597.83 647.42 599.85 647.17 603 646.9 C606.15 646.63 609.07 646.25 611.9 645.8 C614.73 645.35 617.47 644.72 620 644.2 C622.53 643.68 624.77 643.08 627.1 642.7 C629.43 642.32 631.78 642.07 634 641.9 C636.22 641.73 636.8 641.68 640.4 641.7 C644 641.72 650.7 641.85 655.6 642 C660.5 642.15 667.43 642.5 669.8 642.6" stroke="#3b82c4" stroke-width="2.2" fill="none"/>
<path d="M295.1 615.9 C295.17 618.25 295.32 625.98 295.5 630 C295.68 634.02 295.95 636.83 296.2 640 C296.45 643.17 296.62 646.17 297 649 C297.38 651.83 297.95 654.57 298.5 657 C299.05 659.43 299.67 661.68 300.3 663.6 C300.93 665.52 301.57 667.05 302.3 668.5 C303.03 669.95 303.42 670.92 304.7 672.3 C305.98 673.68 308.17 675.45 310 676.8 C311.83 678.15 314.03 679.83 315.7 680.4 C317.37 680.97 318.55 680.33 320 680.2 C321.45 680.07 322.73 679.55 324.4 679.6 C326.07 679.65 328.05 680.25 330 680.5 C331.95 680.75 333.6 681.13 336.1 681.1 C338.6 681.07 342.32 680.53 345 680.3 C347.68 680.07 350.52 679.75 352.2 679.7 C353.88 679.65 353.88 679.58 355.1 680 C356.32 680.42 358.48 681.7 359.5 682.2 C360.52 682.7 359.73 681.75 361.2 683 C362.67 684.25 366.08 687.92 368.3 689.7 C370.52 691.48 372.62 692.85 374.5 693.7 C376.38 694.55 378.27 694.7 379.6 694.8 C380.93 694.9 381.38 694.75 382.5 694.3 C383.62 693.85 383.97 693.4 386.3 692.1 C388.63 690.8 393.18 688.13 396.5 686.5 C399.82 684.87 403.7 683.33 406.2 682.3 C408.7 681.27 409.2 680.95 411.5 680.3 C413.8 679.65 417.57 678.97 420 678.4 C422.43 677.83 422.65 677.38 426.1 676.9 C429.55 676.42 435.83 676.03 440.7 675.5 C445.57 674.97 451.17 674.6 455.3 673.7 C459.43 672.8 462.22 671.5 465.5 670.1 C468.78 668.7 472.65 666.65 475 665.3 C477.35 663.95 476.4 663.52 479.6 662 C482.8 660.48 489.33 657.9 494.2 656.2 C499.07 654.5 503.93 653.03 508.8 651.8 C513.67 650.57 518.53 649.73 523.4 648.8 C528.27 647.87 533.62 646.8 538 646.2 C542.38 645.6 546.87 645.33 549.7 645.2 C552.53 645.07 552.45 645.28 555 645.4 C557.55 645.52 561.83 645.67 565 645.9 C568.17 646.13 569.33 646.55 574 646.8 C578.67 647.05 588.17 647.38 593 647.4 C597.83 647.42 599.85 647.17 603 646.9 C606.15 646.63 609.07 646.25 611.9 645.8 C614.73 645.35 617.47 644.72 620 644.2 C622.53 643.68 624.77 643.08 627.1 642.7 C629.43 642.32 631.78 642.07 634 641.9 C636.22 641.73 636.8 641.68 640.4 641.7 C644 641.72 650.7 641.85 655.6 642 C660.5 642.15 667.43 642.5 669.8 642.6" stroke="#f5862a" stroke-width="2.2" fill="none"/>
<path d="M295.1 549.5 C295.17 552.08 295.37 560.5 295.5 565 C295.63 569.5 295.72 572.83 295.9 576.5 C296.08 580.17 296.35 583.83 296.6 587 C296.85 590.17 297 592.75 297.4 595.5 C297.8 598.25 298.4 601.08 299 603.5 C299.6 605.92 300.25 608 301 610 C301.75 612 302.63 613.78 303.5 615.5 C304.37 617.22 305.33 618.72 306.2 620.3 C307.07 621.88 307.85 623.55 308.7 625 C309.55 626.45 310.25 627.58 311.3 629 C312.35 630.42 313.55 631.92 315 633.5 C316.45 635.08 318.67 637.13 320 638.5 C321.33 639.87 320.32 639.47 323 641.7 C325.68 643.93 331.73 648.98 336.1 651.9 C340.47 654.82 346.05 657.53 349.2 659.2 C352.35 660.87 353.12 661.07 355 661.9 C356.88 662.73 358.67 663.22 360.5 664.2 C362.33 665.18 364.35 666.63 366 667.8 C367.65 668.97 368.82 670 370.4 671.2 C371.98 672.4 373.78 673.8 375.5 675 C377.22 676.2 379.12 677.6 380.7 678.4 C382.28 679.2 383.3 679.37 385 679.8 C386.7 680.23 389.07 680.82 390.9 681 C392.73 681.18 394.3 681 396 680.9 C397.7 680.8 398.55 680.82 401.1 680.4 C403.65 679.98 408.15 679.1 411.3 678.4 C414.45 677.7 416.32 676.98 420 676.2 C423.68 675.42 428.73 674.23 433.4 673.7 C438.07 673.17 444.1 673.23 448 673 C451.9 672.77 453.88 672.83 456.8 672.3 C459.72 671.77 462.47 670.9 465.5 669.8 C468.53 668.7 472.65 667 475 665.7 C477.35 664.4 476.4 663.58 479.6 662 C482.8 660.42 489.33 657.9 494.2 656.2 C499.07 654.5 503.93 653.03 508.8 651.8 C513.67 650.57 518.53 649.73 523.4 648.8 C528.27 647.87 533.62 646.8 538 646.2 C542.38 645.6 546.87 645.33 549.7 645.2 C552.53 645.07 552.45 645.28 555 645.4 C557.55 645.52 561.83 645.67 565 645.9 C568.17 646.13 569.33 646.55 574 646.8 C578.67 647.05 588.17 647.38 593 647.4 C597.83 647.42 599.85 647.17 603 646.9 C606.15 646.63 609.07 646.25 611.9 645.8 C614.73 645.35 617.47 644.72 620 644.2 C622.53 643.68 624.77 643.08 627.1 642.7 C629.43 642.32 631.78 642.07 634 641.9 C636.22 641.73 636.8 641.68 640.4 641.7 C644 641.72 650.7 641.85 655.6 642 C660.5 642.15 667.43 642.5 669.8 642.6" stroke="#4aab33" stroke-width="2.2" fill="none"/>
<path d="M295 483.6 C295.12 486.33 295.47 495.27 295.7 500 C295.93 504.73 296.15 508 296.4 512 C296.65 516 296.93 520.67 297.2 524 C297.47 527.33 297.48 529.33 298 532 C298.52 534.67 299.63 537.5 300.3 540 C300.97 542.5 301.38 544.82 302 547 C302.62 549.18 303.07 550.37 304 553.1 C304.93 555.83 306.52 560.92 307.6 563.4 C308.68 565.88 309.52 566.55 310.5 568 C311.48 569.45 312.5 570.27 313.5 572.1 C314.5 573.93 315.42 576.45 316.5 579 C317.58 581.55 318.68 584.78 320 587.4 C321.32 590.02 321.97 591.53 324.4 594.7 C326.83 597.87 331.43 602.62 334.6 606.4 C337.77 610.18 340.72 613.98 343.4 617.4 C346.08 620.82 349 624.88 350.7 626.9 C352.4 628.92 352.63 628.83 353.6 629.5 C354.57 630.17 355.1 630.4 356.5 630.9 C357.9 631.4 360.28 631.98 362 632.5 C363.72 633.02 365.3 633.28 366.8 634 C368.3 634.72 369.58 635.63 371 636.8 C372.42 637.97 373.42 638.73 375.3 641 C377.18 643.27 379.92 647.25 382.3 650.4 C384.68 653.55 387.67 657.55 389.6 659.9 C391.53 662.25 392.68 663.38 393.9 664.5 C395.12 665.62 395.7 665.9 396.9 666.6 C398.1 667.3 399.88 668.23 401.1 668.7 C402.32 669.17 402.83 669.18 404.2 669.4 C405.57 669.62 407.6 669.88 409.3 670 C411 670.12 412.62 670.15 414.4 670.1 C416.18 670.05 416.83 670 420 669.7 C423.17 669.4 428.73 668.43 433.4 668.3 C438.07 668.17 443.62 668.9 448 668.9 C452.38 668.9 456.3 668.72 459.7 668.3 C463.1 667.88 465.85 667.08 468.4 666.4 C470.95 665.72 473.13 664.93 475 664.2 C476.87 663.47 476.4 663.33 479.6 662 C482.8 660.67 489.33 657.9 494.2 656.2 C499.07 654.5 503.93 653.03 508.8 651.8 C513.67 650.57 518.53 649.73 523.4 648.8 C528.27 647.87 533.62 646.8 538 646.2 C542.38 645.6 546.87 645.33 549.7 645.2 C552.53 645.07 552.45 645.28 555 645.4 C557.55 645.52 561.83 645.67 565 645.9 C568.17 646.13 569.33 646.55 574 646.8 C578.67 647.05 588.17 647.38 593 647.4 C597.83 647.42 599.85 647.17 603 646.9 C606.15 646.63 609.07 646.25 611.9 645.8 C614.73 645.35 617.47 644.72 620 644.2 C622.53 643.68 624.77 643.08 627.1 642.7 C629.43 642.32 631.78 642.07 634 641.9 C636.22 641.73 636.8 641.68 640.4 641.7 C644 641.72 650.7 641.85 655.6 642 C660.5 642.15 667.43 642.5 669.8 642.6" stroke="#d9302e" stroke-width="2.2" fill="none"/>
</g>
<path d="M295.1 746.2 v-7.3 M295.1 471.9 v7.3 M364.48 746.2 v-7.3 M364.48 471.9 v7.3 M433.86 746.2 v-7.3 M433.86 471.9 v7.3 M503.24 746.2 v-7.3 M503.24 471.9 v7.3 M572.62 746.2 v-7.3 M572.62 471.9 v7.3 M642 746.2 v-7.3 M642 471.9 v7.3 M281.4 682.1 h7.3 M683.8 682.1 h-7.3 M281.4 616.2 h7.3 M683.8 616.2 h-7.3 M281.4 550.3 h7.3 M683.8 550.3 h-7.3 M281.4 484.4 h7.3 M683.8 484.4 h-7.3" stroke="#000" stroke-width="1.67" fill="none"/>
<rect x="281.4" y="471.9" width="402.4" height="274.3" fill="none" stroke="#000" stroke-width="1.67"/>
<text font-size="20.83" text-anchor="middle" x="295.1" y="769.2">0.0</text>
<text font-size="20.83" text-anchor="middle" x="364.48" y="769.2">0.1</text>
<text font-size="20.83" text-anchor="middle" x="433.86" y="769.2">0.2</text>
<text font-size="20.83" text-anchor="middle" x="503.24" y="769.2">0.3</text>
<text font-size="20.83" text-anchor="middle" x="572.62" y="769.2">0.4</text>
<text font-size="20.83" text-anchor="middle" x="642" y="769.2">0.5</text>
<text font-size="20.83" text-anchor="end" x="274.4" y="690.6">−0.5</text>
<text font-size="20.83" text-anchor="end" x="274.4" y="624.7">0.0</text>
<text font-size="20.83" text-anchor="end" x="274.4" y="558.8">0.5</text>
<text font-size="20.83" text-anchor="end" x="274.4" y="492.9">1.0</text>
<text font-size="25" text-anchor="middle" x="482.4" y="799.2">dose (dpa)</text>
</g>
<g transform="translate(209.2 292.3) rotate(-90)"><text font-size="25" x="-1.2" y="0">stress <tspan font-style="oblique">σ</tspan></text><text font-size="17.5" x="97.7" y="-9.7">el</text><text font-size="17.5" font-style="oblique" x="97.4" y="6.2" textLength="17.0" lengthAdjust="spacingAndGlyphs">zz</text><text font-size="25" x="123.6" y="0">(GPa)</text></g>
<g transform="translate(209.2 704.7) rotate(-90)"><text font-size="25" x="-1.2" y="0">stress <tspan font-style="oblique">σ</tspan></text><text font-size="17.5" x="97.7" y="-9.7">el</text><text font-size="17.5" font-style="oblique" x="97.4" y="6.2" textLength="17.0" lengthAdjust="spacingAndGlyphs">zz</text><text font-size="25" x="123.6" y="0">(GPa)</text></g>
<text class="ls" font-size="25.6" x="290.2" y="39.1" textLength="157.2" lengthAdjust="spacingAndGlyphs">Heterogeneous</text>
<text class="ls" font-size="25.6" x="456.4" y="39.1" textLength="109.2" lengthAdjust="spacingAndGlyphs">irradiation</text>
<text class="ls" font-size="25.6" x="585.6" y="39.1" textLength="65" lengthAdjust="spacingAndGlyphs">tested</text>
<text class="ls" font-size="25.6" x="290.2" y="452.3" textLength="149.2" lengthAdjust="spacingAndGlyphs">Homogeneous</text>
<text class="ls" font-size="25.6" x="450" y="452.3" textLength="107.9" lengthAdjust="spacingAndGlyphs">irradiation</text>
<text class="ls" font-size="25.6" x="578.4" y="452.3" textLength="97.2" lengthAdjust="spacingAndGlyphs">predicted</text>
<text class="ls" font-size="29.3" x="574.4" y="39.8">(</text>
<text class="ls" font-size="29.3" x="651.5" y="39.8">)</text>
<text class="ls" font-size="29.3" x="567.4" y="453">(</text>
<text class="ls" font-size="29.3" x="676.5" y="453">)</text>
</svg>
</body>
</html>
